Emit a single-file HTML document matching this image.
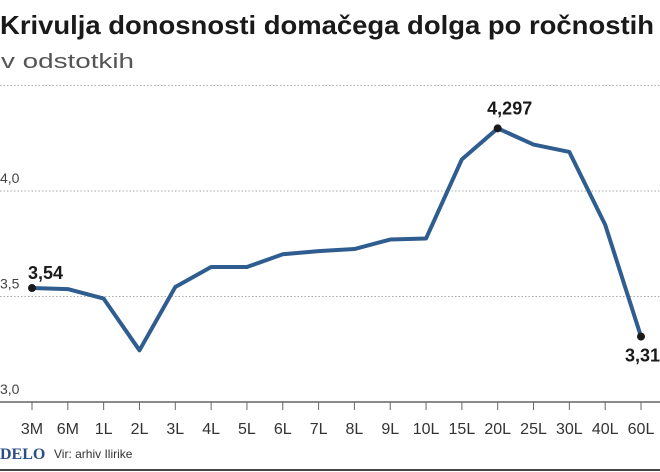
<!DOCTYPE html>
<html><head><meta charset="utf-8"><style>
body{margin:0;background:#fff;width:660px;height:472px;overflow:hidden;font-family:"Liberation Sans",sans-serif}
svg{display:block}
</style></head><body>
<svg id="c" width="660" height="472">
<text x="0" y="34" font-size="26" font-weight="bold" fill="#1a1a1a" textLength="654" lengthAdjust="spacingAndGlyphs">Krivulja donosnosti domačega dolga po ročnostih</text>
<text x="1" y="68" font-size="20" fill="#555" textLength="133" lengthAdjust="spacingAndGlyphs">v odstotkih</text>
<g id="grid"></g><g id="xaxis"></g><g id="series"></g>
<text x="0" y="459" font-family="Liberation Serif" font-weight="bold" font-size="16" fill="#2b4f84">DELO</text>
<text x="54" y="458" font-size="12" fill="#333">Vir: arhiv Ilirike</text>
<line x1="0" y1="470" x2="660" y2="470" stroke="#444" stroke-width="2"/>
</svg>
<script>
const cats=["3M","6M","1L","2L","3L","4L","5L","6L","7L","8L","9L","10L","15L","20L","25L","30L","40L","60L"];
const values=[3.54,3.535,3.49,3.245,3.545,3.64,3.64,3.70,3.715,3.725,3.77,3.775,4.15,4.297,4.22,4.185,3.84,3.31];
const yTicks=[3.0,3.5,4.0,4.5];
const yTickLabels=["3,0","3,5","4,0",""];
const labeled=[[0,"3,54"],[13,"4,297"],[17,"3,31"]];
const NS="http://www.w3.org/2000/svg";
const x0=32,x1=641,n=cats.length;
const xs=i=>x0+(x1-x0)*i/(n-1);
const ys=v=>402-(v-3)*211;
function mk(t,a,p){const e=document.createElementNS(NS,t);for(const k in a)e.setAttribute(k,a[k]);p.appendChild(e);return e;}
const grid=document.getElementById('grid'),xa=document.getElementById('xaxis'),se=document.getElementById('series');
yTicks.forEach((t,i)=>{
  if(t===3.0)return;
  const l=mk('line',{x1:0,x2:660,y1:ys(t),y2:ys(t),stroke:'#aaa','stroke-dasharray':'1.5 2'},grid);
  
  
});
yTicks.forEach((t,i)=>{
  if(!yTickLabels[i])return;
  const tx=mk('text',{x:0,y:ys(t)-8,'font-size':14,fill:'#444'},grid);tx.textContent=yTickLabels[i];
  
  
});
const ax=mk('line',{x1:0,x2:660,y1:402,y2:402,stroke:'#444','stroke-width':1.2},xa);


cats.forEach((c,i)=>{
  const tk=mk('line',{x1:xs(i),x2:xs(i),y1:402,y2:410,stroke:'#666'},xa);
  
  
  const tx=mk('text',{x:xs(i),y:434,'font-size':16,fill:'#333','text-anchor':'middle'},xa);tx.textContent=c;
  
  
});
const pl=mk('polyline',{points:values.map((v,i)=>xs(i)+','+ys(v)).join(' '),fill:'none',stroke:'#2f5d8f','stroke-width':4,'stroke-linejoin':'round'},se);


labeled.forEach(([i,t],k)=>{
  const d=mk('circle',{cx:xs(i),cy:ys(values[i]),r:4,fill:'#1a1a1a'},se);
  
  
  const a=k===0?{x:xs(i)-4,y:ys(values[i])-9,anchor:'start'}:k===1?{x:xs(i)+12,y:ys(values[i])-14,anchor:'middle'}:{x:660,y:ys(values[i])+25,anchor:'end'};
  const tx=mk('text',{x:a.x,y:a.y,'font-size':18,'font-weight':'bold',fill:'#1a1a1a','text-anchor':a.anchor},se);tx.textContent=t;
  
  
});
</script>
</body></html>
